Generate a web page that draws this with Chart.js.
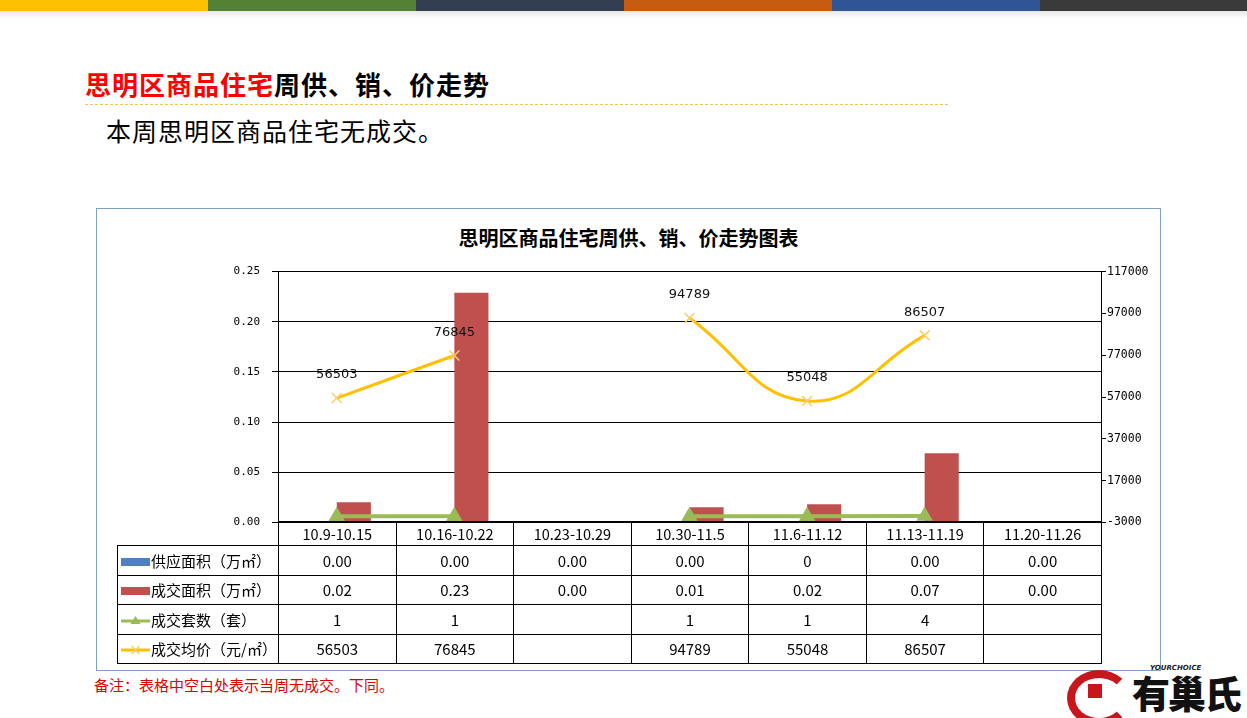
<!DOCTYPE html>
<html>
<head>
<meta charset="utf-8">
<script src="https://cdn.jsdelivr.net/npm/chart.js@4"></script>
<style>
  html, body { margin: 0; padding: 0; background: #fff; }
  body { width: 1247px; height: 718px; position: relative; overflow: hidden; font-family: "Noto Sans CJK SC", sans-serif; }
  .stripe { position: absolute; top: 0; height: 11px; }
  .fade { position: absolute; top: 11px; left: 0; width: 1247px; height: 8px;
    background: linear-gradient(#d8d8d8, rgba(255,255,255,0)); opacity: .6; }
  #title { position: absolute; left: 85px; top: 66px; font-size: 26px; font-weight: bold; line-height: 36px; color: #000; letter-spacing: 1px; }
  #title span { color: #ff0000; }
  #dash { position: absolute; left: 85px; top: 104px; width: 863px; border-top: 1px dashed #efc25a; }
  #sub { position: absolute; left: 106px; top: 113px; font-size: 25px; line-height: 34px; color: #000; letter-spacing: 1px; }
  #box { position: absolute; left: 96px; top: 208px; width: 1063px; height: 461px; border: 1px solid #7f9fc8; }
  #ctitle { position: absolute; left: 96px; top: 224px; width: 1065px; text-align: center; font-size: 20px; font-weight: bold; line-height: 28px; }
  #wrap { position: absolute; left: 96px; top: 253px; width: 1064px; height: 288px; }
  table { position: absolute; left: 117px; top: 521px; width: 985px; border-collapse: collapse; table-layout: fixed; font-size: 15px; color: #000; }
  td { border: 1px solid #000; text-align: center; padding: 0; white-space: nowrap; }
  tr.head td { height: 23px; font-size: 14.5px; }
  tr.row td { height: 28.5px; }
  td.lab { text-align: left; padding-left: 3px; }
  td.blank { border-top: none; border-left: none; }
  .sw { display: inline-block; width: 29px; height: 8px; vertical-align: middle; margin-right: 1px; position: relative; top: -1px; }
  svg.sw { height: 14px; }
  #note { position: absolute; left: 94px; top: 674px; font-size: 15px; color: #e00000; line-height: 22px; }
  #logo { position: absolute; left: 1064px; top: 664px; width: 180px; height: 54px; }
  #ring { position: absolute; left: 3px; top: 6px; width: 48px; height: 40px; border: 8px solid #c8161d; border-radius: 50%; border-right-color: transparent; }
  #house { position: absolute; left: 24px; top: 20px; width: 14px; height: 14px; background: #c8161d; }
  #brand { position: absolute; left: 68px; top: 4px; font-size: 38px; font-weight: 900; letter-spacing: -2px; line-height: 48px; color: #111; }
  #yc { position: absolute; left: 86px; top: 0px; font-size: 7px; font-style: italic; font-weight: bold; color: #222; font-family: "DejaVu Sans", sans-serif; }
</style>
</head>
<body>
<div class="stripe" style="left:0;width:208px;background:#ffc000"></div>
<div class="stripe" style="left:208px;width:208px;background:#548235"></div>
<div class="stripe" style="left:416px;width:208px;background:#333f50"></div>
<div class="stripe" style="left:624px;width:208px;background:#c55a11"></div>
<div class="stripe" style="left:832px;width:208px;background:#2f5597"></div>
<div class="stripe" style="left:1040px;width:207px;background:#3a3a3a"></div>
<div class="fade"></div>

<div id="title"><span>思明区商品住宅</span>周供、销、价走势</div>
<div id="dash"></div>
<div id="sub">本周思明区商品住宅无成交。</div>

<div id="box"></div>
<div id="ctitle">思明区商品住宅周供、销、价走势图表</div>
<div id="wrap"><canvas id="myChart"></canvas></div>
<table id="tbl"></table>

<div id="note">备注：表格中空白处表示当周无成交。下同。</div>
<div id="logo">
  <div id="ring"></div><div id="house"></div>
  <div id="yc">YOURCHOICE</div>
  <div id="brand">有巢氏</div>
</div>

<script>
/* globals Chart:false */

// data
const categories = ['10.9-10.15', '10.16-10.22', '10.23-10.29', '10.30-11.5', '11.6-11.12', '11.13-11.19', '11.20-11.26']
const supplyArea = [0, 0, 0, 0, 0, 0, 0]
const dealArea = [0.02, 0.229, 0, 0.015, 0.018, 0.069, 0]
const dealUnits = [1, 1, null, 1, 1, 4, null]
const avgPrice = [56503, 76845, null, 94789, 55048, 86507, null]

// text shown in the table (rounded as in the source sheet)
const supplyAreaText = ['0.00', '0.00', '0.00', '0.00', '0', '0.00', '0.00']
const dealAreaText = ['0.02', '0.23', '0.00', '0.01', '0.02', '0.07', '0.00']

const seriesNames = ['供应面积（万㎡）', '成交面积（万㎡）', '成交套数（套）', '成交均价（元/㎡）']

// axis ranges
const leftMin = 0, leftMax = 0.25, leftStep = 0.05
const rightMin = -3000, rightMax = 117000, rightStep = 20000

const blue = '#4f81bd', red = '#c0504d', green = '#9bbb59', gold = '#ffc000', goldMark = '#f6cf6a'

// build the table under the plot
;(() => {
  const tbl = document.getElementById('tbl')
  let html = '<colgroup><col style="width:161px">' + categories.map(() => '<col>').join('') + '</colgroup>'
  html += '<tr class="head"><td class="blank"></td>' + categories.map(c => '<td>' + c + '</td>').join('') + '</tr>'
  const swatches = [
    '<span class="sw" style="background:' + blue + '"></span>',
    '<span class="sw" style="background:' + red + '"></span>',
    '<svg class="sw" viewBox="0 0 29 14"><line x1="0" y1="7" x2="29" y2="7" stroke="' + green + '" stroke-width="3"/><polygon points="14.5,2 19.5,10 9.5,10" fill="' + green + '"/></svg>',
    '<svg class="sw" viewBox="0 0 29 14"><line x1="0" y1="7" x2="29" y2="7" stroke="' + gold + '" stroke-width="3"/><path d="M10.5 3 L18.5 11 M18.5 3 L10.5 11" stroke="' + goldMark + '" stroke-width="1.5"/></svg>'
  ]
  const rows = [
    supplyAreaText,
    dealAreaText,
    dealUnits.map(v => v == null ? '' : String(v)),
    avgPrice.map(v => v == null ? '' : String(v))
  ]
  rows.forEach((r, k) => {
    html += '<tr class="row"><td class="lab">' + swatches[k] + seriesNames[k] + '</td>' +
      r.map(v => '<td>' + v + '</td>').join('') + '</tr>'
  })
  tbl.innerHTML = html
})()

// price labels above the points
const priceLabels = {
  id: 'priceLabels',
  afterDatasetsDraw(chart) {
    const ctx = chart.ctx
    const meta = chart.getDatasetMeta(3)
    ctx.save()
    ctx.font = '13px "DejaVu Sans"'
    ctx.fillStyle = '#111'
    ctx.textAlign = 'center'
    ctx.textBaseline = 'middle'
    meta.data.forEach((pt, i) => {
      if (avgPrice[i] == null) return
      ctx.fillText(String(avgPrice[i]), pt.x, pt.y - 23)
    })
    ctx.restore()
  }
}

;(() => {
  'use strict'

  const ctx = document.getElementById('myChart')
  new Chart(ctx, {
    type: 'bar',
    data: {
      labels: categories,
      datasets: [
        {
          label: seriesNames[0],
          data: supplyArea,
          backgroundColor: blue,
          yAxisID: 'y',
          order: 2
        },
        {
          label: seriesNames[1],
          data: dealArea,
          backgroundColor: red,
          yAxisID: 'y',
          order: 2
        },
        {
          type: 'line',
          label: seriesNames[2],
          data: dealUnits,
          yAxisID: 'y1',
          borderColor: green,
          borderWidth: 4,
          pointStyle: 'triangle',
          pointRadius: 5.5,
          pointBackgroundColor: green,
          pointBorderColor: green,
          spanGaps: false,
          order: 1
        },
        {
          type: 'line',
          label: seriesNames[3],
          data: avgPrice,
          yAxisID: 'y1',
          borderColor: gold,
          borderWidth: 3,
          tension: 0.45,
          pointStyle: 'crossRot',
          pointRadius: 7,
          pointBorderColor: goldMark,
          pointBorderWidth: 1.5,
          spanGaps: false,
          order: 0
        }
      ]
    },
    options: {
      responsive: true,
      maintainAspectRatio: false,
      animation: false,
      layout: { padding: { top: 15, bottom: 15, left: 0, right: 0 } },
      datasets: {
        bar: { categoryPercentage: 0.58, barPercentage: 1 }
      },
      scales: {
        x: {
          display: false
        },
        y: {
          position: 'left',
          min: leftMin,
          max: leftMax,
          afterFit: s => { s.width = 182 },
          ticks: {
            stepSize: leftStep,
            padding: 12,
            color: '#000',
            font: { family: 'DejaVu Sans Mono', size: 11 },
            callback: v => Number(v).toFixed(2)
          },
          grid: { color: '#000', lineWidth: 1, tickLength: 6 },
          border: { color: '#000' }
        },
        y1: {
          position: 'right',
          min: rightMin,
          max: rightMax,
          afterFit: s => { s.width = 59 },
          ticks: {
            stepSize: rightStep,
            padding: 1,
            color: '#000',
            font: { family: 'DejaVu Sans Mono', size: 11.5 },
            callback: v => String(v)
          },
          grid: { drawOnChartArea: false, color: '#000', tickLength: 5 },
          border: { color: '#000' }
        }
      },
      plugins: {
        legend: { display: false },
        tooltip: { enabled: false }
      }
    },
    plugins: [priceLabels]
  })
})()
</script>
</body>
</html>
